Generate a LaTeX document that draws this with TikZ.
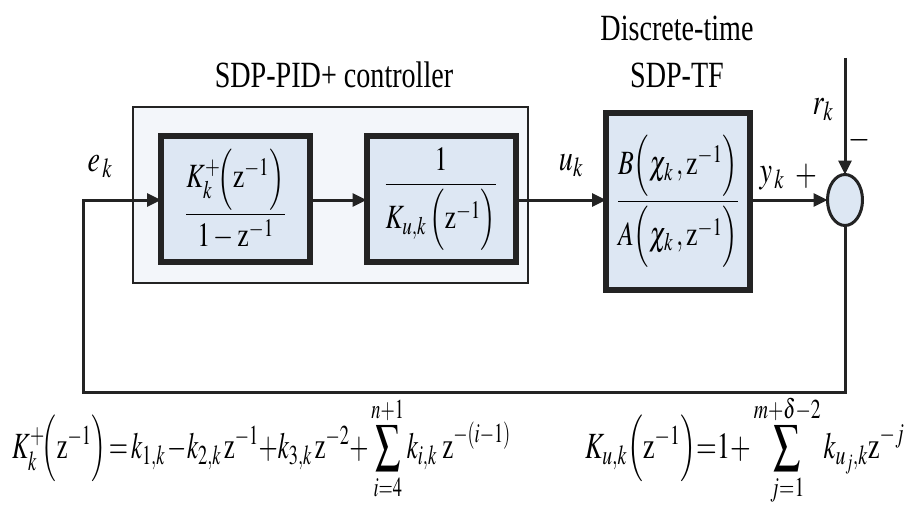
\documentclass[tikz,border=0pt]{standalone}
\usepackage{amsmath}
\usepackage{mathptmx}
\usepackage{fontspec}
\setmainfont{Liberation Serif}
\usetikzlibrary{arrows.meta,shapes.geometric}
\definecolor{outerfill}{RGB}{243,246,250}
\definecolor{blockfill}{RGB}{221,231,243}
\definecolor{edgecol}{RGB}{35,35,35}
\begin{document}
\begin{tikzpicture}[x=1pt,y=-1pt,
  wire/.style={draw=edgecol,line width=3pt},
  sig/.style={wire,-{Triangle[length=14pt,width=13pt]}},
  blockbox/.style={draw=edgecol,fill=blockfill,line width=6pt,rectangle,inner sep=0pt,outer sep=0pt},
  lbl/.style={inner sep=0pt,font=\fontsize{37}{40}\selectfont,xscale=0.76},
  blk/.style={inner sep=0pt,font=\fontsize{34}{38}\selectfont,xscale=0.76},
  eqn/.style={inner sep=0pt,font=\fontsize{37}{40}\selectfont}]
\useasboundingbox (0,0) rectangle (911,519);
\fill[white] (0,0) rectangle (911,519);
% outer controller box
\node[draw=edgecol,fill=outerfill,line width=1.5pt,rectangle,inner sep=0pt,outer sep=0pt,minimum width=395pt,minimum height=176pt] (outer) at (330.5,195) {};
% blocks
\node[blockbox,minimum width=149pt,minimum height=126pt] (b1) at (235.5,199) {};
\node[blk] (b1t) at (b1.center) {$\dfrac{K_k^{+}\!\Bigl(\mathrm{z}^{-1}\Bigr)}{1-\mathrm{z}^{-1}}$};
\node[blockbox,minimum width=149pt,minimum height=126pt] (b2) at (441,199) {};
\node[blk] (b2t) at (b2.center) {$\dfrac{1}{K_{u,k}\,\Bigl(\mathrm{z}^{-1}\Bigr)}$};
\node[blockbox,minimum width=144pt,minimum height=177pt] (b3) at (678,201.5) {};
\node[blk] (b3t) at (b3.center) {$\dfrac{B\Bigl(\chi_k\,,\mathrm{z}^{-1}\Bigr)}{A\Bigl(\chi_k\,,\mathrm{z}^{-1}\Bigr)}$};
% summing junction
\node[ellipse,draw=edgecol,fill=blockfill,line width=3pt,minimum width=35pt,minimum height=51pt,inner sep=0pt,outer sep=0pt] (sum) at (845,200) {};
% coordinates
\coordinate (rin) at (845,58);
\coordinate (cbr) at (845,392);
\coordinate (cbl) at (83,392);
\coordinate (ctl) at (83,200);
% connectors
\draw[sig] (b1.east |- 0,200) -- (b2.west |- 0,200);
\draw[sig] (b2.east |- 0,200) -- (b3.west |- 0,200);
\draw[sig] (b3.east |- 0,200) -- (sum.west);
\draw[sig] (rin) -- (sum.north);
\draw[sig] (sum.south) -- (cbr) -- (cbl) -- (ctl) -- (b1.west |- 0,200);
% labels
\node[lbl] (title1) at (334,75) {SDP-PID+ controller};
\node[lbl] (title2) at (677,28) {Discrete-time};
\node[lbl] (title3) at (677,75) {SDP-TF};
\node[lbl] (ek) at (100,167) {$e_{\,k}$};
\node[lbl] (uk) at (571,166) {$u_k$};
\node[lbl] (yk) at (772,178) {$y_{\,k}$};
\node[lbl] (plus) at (806,176) {$+$};
\node[lbl] (rk) at (823,110) {$r_k$};
\node[lbl] (minus) at (859,140) {$-$};
% equations
\node[eqn,xscale=0.67,anchor=base west] (eq1) at (12,458) {$K_k^{+}\!\Bigl(\mathrm{z}^{-1}\Bigr)\!=\!k_{1,k}\,{-}k_{2,k}\,\mathrm{z}^{-1}{+}k_{3,k}\,\mathrm{z}^{-2}{+}\displaystyle\sum_{i=4}^{n+1}k_{i,k}\;\mathrm{z}^{-(i-1)}$};
\node[eqn,xscale=0.72,anchor=base west] (eq2) at (585,458) {$K_{u,k}\Bigl(\mathrm{z}^{-1}\Bigr)\!\!=\!\!1{+}\displaystyle\sum_{j=1}^{m+\delta-2}k_{u_j,k}\mathrm{z}^{-j}$};
\end{tikzpicture}
\end{document}
